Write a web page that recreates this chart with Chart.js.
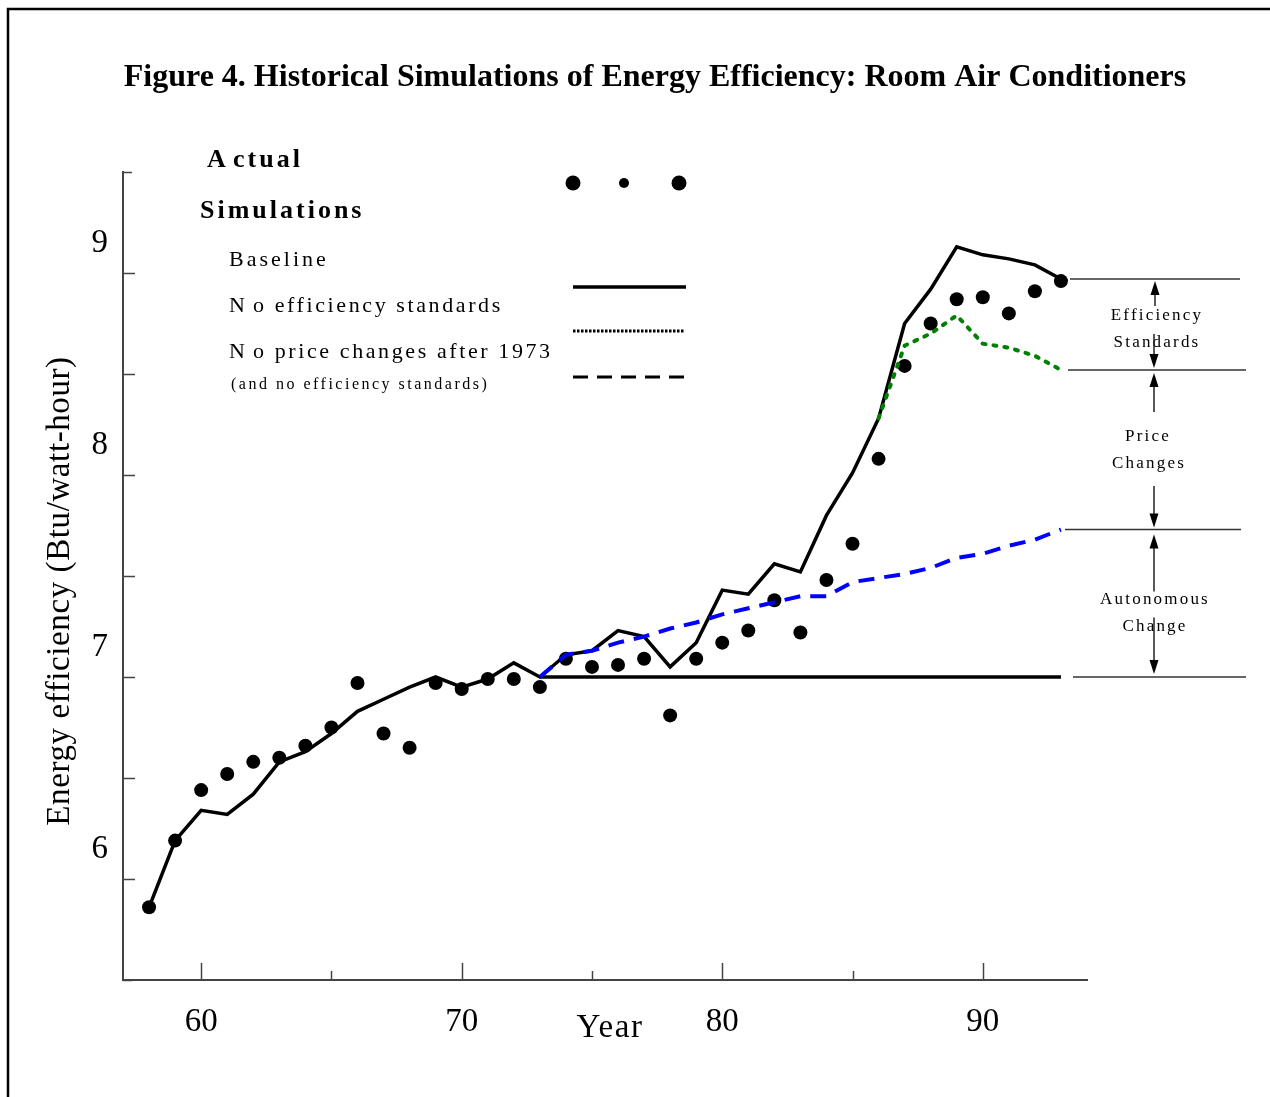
<!DOCTYPE html>
<html>
<head>
<meta charset="utf-8">
<script src="https://cdn.jsdelivr.net/npm/chart.js@4.4.0/dist/chart.umd.min.js"></script>
<style>
  html, body { margin: 0; padding: 0; background: #fff; }
  canvas { display: block; }
</style>
</head>
<body>
<canvas id="chart" width="1270" height="1097"></canvas>
<script>
// --- DATA (years are 19xx) ---
const years = [58, 59, 60, 61, 62, 63, 64, 65, 66, 67, 68, 69, 70, 71, 72, 73, 74, 75,
               76, 77, 78, 79, 80, 81, 82, 83, 84, 85, 86, 87, 88, 89, 90, 91, 92, 93];
const actual = [5.86, 6.19, 6.44, 6.52, 6.58, 6.60, 6.66, 6.75, 6.97, 6.72, 6.65, 6.97,
                6.94, 6.99, 6.99, 6.95, 7.09, 7.05, 7.06, 7.09, 6.81, 7.09, 7.17, 7.23,
                7.38, 7.22, 7.48, 7.66, 8.08, 8.54, 8.75, 8.87, 8.88, 8.80, 8.91, 8.96];
const baseline = [5.86, 6.19, 6.34, 6.32, 6.42, 6.58, 6.63, 6.72, 6.83, 6.89, 6.95, 7.00,
                  6.95, 6.99, 7.07, 7.00, 7.11, 7.13, 7.23, 7.20, 7.05, 7.17, 7.43, 7.41,
                  7.56, 7.52, 7.80, 8.01, 8.28, 8.75, 8.92, 9.13, 9.09, 9.07, 9.04, 8.97];

const noStdYears = [86, 87, 88, 89, 90, 91, 92, 93];
const noStandards = [8.28, 8.64, 8.70, 8.79, 8.65, 8.63, 8.59, 8.52];

const noPriceYears = [73, 74, 75, 76, 77, 78, 79, 80, 81, 82, 83, 84, 85, 86, 87, 88, 89, 90, 91, 92, 93];
const noPrice = [7.00, 7.11, 7.13, 7.17, 7.20, 7.24, 7.27, 7.31, 7.34, 7.37, 7.40, 7.40,
                 7.47, 7.49, 7.51, 7.54, 7.59, 7.61, 7.65, 7.68, 7.73];

const flatYears = [73, 93];
const flatLevel = [7.0, 7.0];

const xTicks = [60, 65, 70, 75, 80, 85, 90];
const xTickLabels = ['60', '', '70', '', '80', '', '90'];
const yTicks = [5.5, 6, 6.5, 7, 7.5, 8, 8.5, 9, 9.5];
const yTickLabels = ['', '6', '', '7', '', '8', '', '9', ''];

const SERIF = "'Liberation Serif', 'Times New Roman', serif";
const pts = (xs, ys) => xs.map((x, i) => ({ x: x, y: ys[i] }));

// --- HELPERS ---
const text = (ctx, str, x, y, font, spacing, align) => {
    ctx.save();
    ctx.font = font;
    ctx.letterSpacing = spacing || '0px';
    ctx.textAlign = align || 'left';
    ctx.textBaseline = 'alphabetic';
    ctx.fillStyle = '#000';
    ctx.fillText(str, x, y);
    ctx.restore();
};

const arrow = (ctx, x, from, tip) => {
    const dir = tip > from ? 1 : -1;
    ctx.save();
    ctx.strokeStyle = '#222';
    ctx.fillStyle = '#000';
    ctx.lineWidth = 1.5;
    ctx.beginPath();
    ctx.moveTo(x, from);
    ctx.lineTo(x, tip - dir * 12);
    ctx.stroke();
    ctx.beginPath();
    ctx.moveTo(x, tip);
    ctx.lineTo(x - 4.5, tip - dir * 14);
    ctx.lineTo(x + 4.5, tip - dir * 14);
    ctx.closePath();
    ctx.fill();
    ctx.restore();
};

const hline = (ctx, x1, x2, y, width, dash, color) => {
    ctx.save();
    ctx.strokeStyle = color || '#000';
    ctx.lineWidth = width;
    ctx.setLineDash(dash || []);
    ctx.beginPath();
    ctx.moveTo(x1, y);
    ctx.lineTo(x2, y);
    ctx.stroke();
    ctx.restore();
};

// --- DECORATION PLUGIN: frame, inward ticks, titles, legend, side notes ---
const decor = {
    id: 'decor',
    beforeDraw(chart) {
        const ctx = chart.ctx;
        ctx.save();
        ctx.fillStyle = '#fff';
        ctx.fillRect(0, 0, chart.width, chart.height);
        ctx.strokeStyle = '#000';
        ctx.lineWidth = 2.5;
        ctx.beginPath();
        ctx.moveTo(8, chart.height + 5);
        ctx.lineTo(8, 9);
        ctx.lineTo(chart.width + 5, 9);
        ctx.stroke();
        ctx.restore();
    },
    afterDraw(chart) {
        const ctx = chart.ctx;
        const xs = chart.scales.x, ys = chart.scales.y;
        const area = chart.chartArea;

        // inward tick marks
        ctx.save();
        ctx.strokeStyle = '#444';
        ctx.lineWidth = 1.5;
        yTicks.forEach((v, i) => {
            const py = Math.round(ys.getPixelForValue(v)) + 0.5;
            const len = (i === yTicks.length - 1 || i === 0) ? 9 : 12;
            ctx.beginPath();
            ctx.moveTo(area.left, py);
            ctx.lineTo(area.left + len, py);
            ctx.stroke();
        });
        xTicks.forEach((v, i) => {
            const px = Math.round(xs.getPixelForValue(v)) + 0.5;
            const len = xTickLabels[i] ? 17 : 9;
            ctx.beginPath();
            ctx.moveTo(px, area.bottom);
            ctx.lineTo(px, area.bottom - len);
            ctx.stroke();
        });
        ctx.restore();

        // main title
        text(ctx, 'Figure 4. Historical Simulations of Energy Efficiency: Room Air Conditioners',
             655, 86, 'bold 32px ' + SERIF, '0px', 'center');

        // axis titles
        text(ctx, 'Year', 610, 1037, '33px ' + SERIF, '1.5px', 'center');
        ctx.save();
        ctx.translate(69, 591);
        ctx.rotate(-Math.PI / 2);
        text(ctx, 'Energy efficiency (Btu/watt-hour)', 0, 0, '33px ' + SERIF, '0.6px', 'center');
        ctx.restore();

        // legend
        text(ctx, 'A', 207, 167, 'bold 26px ' + SERIF, '3px');
        text(ctx, 'ctual', 233, 167, 'bold 26px ' + SERIF, '3px');
        text(ctx, 'Simulations', 200, 218, 'bold 26px ' + SERIF, '3px');
        text(ctx, 'Baseline', 229, 266, '22px ' + SERIF, '3px');
        text(ctx, 'N', 229, 312, '22px ' + SERIF, '2.6px');
        text(ctx, 'o efficiency standards', 253, 312, '22px ' + SERIF, '2.6px');
        text(ctx, 'N', 229, 358, '22px ' + SERIF, '2.6px');
        text(ctx, 'o price changes after 1973', 253, 358, '22px ' + SERIF, '2.6px');
        text(ctx, '(and no efficiency standards)', 231, 389, '16px ' + SERIF, '2.5px');

        ctx.save();
        ctx.fillStyle = '#000';
        [[573, 7.5], [624, 5], [679, 7.5]].forEach(([cx, r]) => {
            ctx.beginPath();
            ctx.arc(cx, 183, r, 0, Math.PI * 2);
            ctx.fill();
        });
        ctx.restore();
        hline(ctx, 573, 686, 287, 3.5);
        hline(ctx, 573, 684, 331, 3, [2.5, 1.5]);
        hline(ctx, 573, 689, 377, 3, [15, 9]);

        // side notes: gaps between the end points of the simulations
        const y1 = ys.getPixelForValue(baseline[baseline.length - 1]);
        const y2 = ys.getPixelForValue(noStandards[noStandards.length - 1]);
        const y3 = ys.getPixelForValue(noPrice[noPrice.length - 1]);
        const y4 = ys.getPixelForValue(flatLevel[flatLevel.length - 1]);
        hline(ctx, 1070, 1240, y1, 1.5, null, '#333');
        hline(ctx, 1068, 1246, y2, 1.5, null, '#333');
        hline(ctx, 1065, 1241, y3, 1.5, null, '#333');
        hline(ctx, 1073, 1246, y4, 1.5, null, '#333');

        const noteFont = '17px ' + SERIF;
        text(ctx, 'Efficiency', 1157, y1 + 41, noteFont, '2.2px', 'center');
        text(ctx, 'Standards', 1157, y1 + 68, noteFont, '2.2px', 'center');
        arrow(ctx, 1155, y1 + 27, y1 + 2);
        arrow(ctx, 1154, y1 + 55, y2 - 2);

        text(ctx, 'Price', 1148, y2 + 71, noteFont, '2.2px', 'center');
        text(ctx, 'Changes', 1149, y2 + 98, noteFont, '2.2px', 'center');
        arrow(ctx, 1154, y2 + 42, y2 + 3);
        arrow(ctx, 1154, y2 + 116, y3 - 2);

        text(ctx, 'Autonomous', 1155, y3 + 74, noteFont, '2.2px', 'center');
        text(ctx, 'Change', 1155, y3 + 101, noteFont, '2.2px', 'center');
        arrow(ctx, 1154, y3 + 62, y3 + 5);
        arrow(ctx, 1154, y3 + 88, y4 - 3);
    }
};

// --- CHART ---
new Chart(document.getElementById('chart'), {
    type: 'scatter',
    data: {
        datasets: [
            { label: 'No efficiency standards', data: pts(noStdYears, noStandards), showLine: true,
              borderColor: '#008000', borderWidth: 4, borderDash: [3, 8], borderCapStyle: 'round',
              pointRadius: 0, tension: 0 },
            { label: 'No price changes after 1973', data: pts(noPriceYears, noPrice), showLine: true,
              borderColor: '#0000ff', borderWidth: 4, borderDash: [16, 10], pointRadius: 0, tension: 0 },
            { label: 'Actual', data: pts(years, actual), showLine: false,
              pointRadius: 7, pointBackgroundColor: '#000', pointBorderWidth: 0 },
            { label: 'Baseline', data: pts(years, baseline), showLine: true,
              borderColor: '#000', borderWidth: 3.5, pointRadius: 0, tension: 0 },
            { label: '1973 level', data: pts(flatYears, flatLevel), showLine: true,
              borderColor: '#000', borderWidth: 3.5, pointRadius: 0, tension: 0 }
        ]
    },
    options: {
        responsive: false,
        animation: false,
        devicePixelRatio: 1,
        layout: { padding: { top: 172, right: 183, left: 0, bottom: 0 } },
        plugins: { legend: { display: false }, tooltip: { enabled: false }, title: { display: false } },
        scales: {
            x: {
                type: 'linear', min: 57, max: 94,
                afterFit: s => { s.height = 117; },
                afterBuildTicks: s => { s.ticks = xTicks.map(v => ({ value: v })); },
                grid: { display: false, drawTicks: false },
                border: { display: true, color: '#444', width: 2 },
                ticks: {
                    autoSkip: false, maxRotation: 0, padding: 23, color: '#000',
                    font: { family: SERIF, size: 33 },
                    callback: v => xTickLabels[xTicks.indexOf(v)] || ''
                }
            },
            y: {
                type: 'linear', min: 5.5, max: 9.5,
                afterFit: s => { s.width = 123; },
                afterBuildTicks: s => { s.ticks = yTicks.map(v => ({ value: v })); },
                grid: { display: false, drawTicks: false },
                border: { display: true, color: '#444', width: 2 },
                ticks: {
                    autoSkip: false, padding: 15, labelOffset: -30, color: '#000',
                    font: { family: SERIF, size: 33 },
                    callback: v => yTickLabels[yTicks.indexOf(v)] || ''
                }
            }
        }
    },
    plugins: [decor]
});
</script>
</body>
</html>
